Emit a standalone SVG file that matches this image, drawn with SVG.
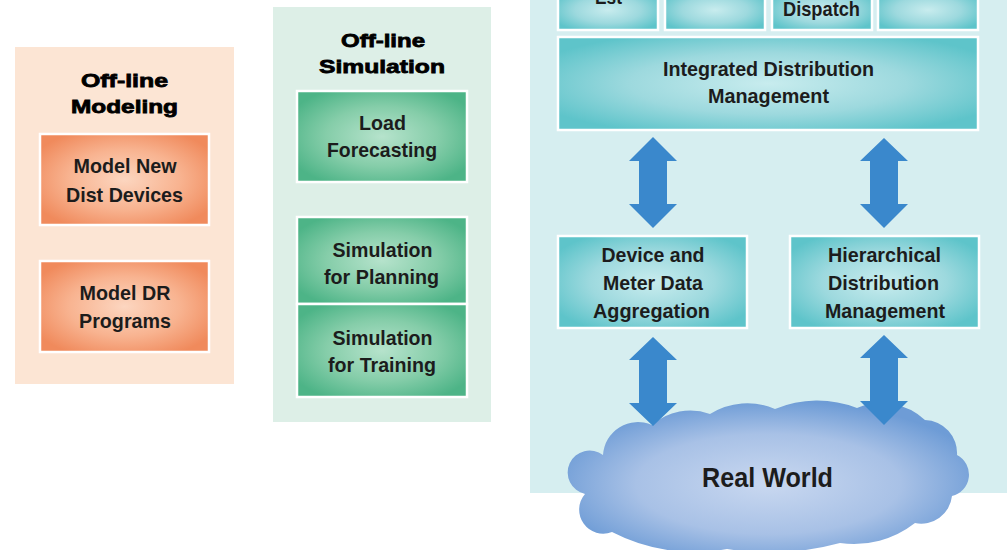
<svg xmlns="http://www.w3.org/2000/svg" width="1007" height="550" viewBox="0 0 1007 550">
<defs>
<radialGradient id="gTeal" cx="0.5" cy="0.5" r="0.6"><stop offset="0" stop-color="#c8ecee"/><stop offset="0.55" stop-color="#9dd9de"/><stop offset="1" stop-color="#5ec4ca"/></radialGradient>
<radialGradient id="gOrange" cx="0.5" cy="0.5" r="0.6"><stop offset="0" stop-color="#fcd6c0"/><stop offset="0.55" stop-color="#f8b390"/><stop offset="1" stop-color="#f08a5c"/></radialGradient>
<radialGradient id="gGreen" cx="0.5" cy="0.5" r="0.6"><stop offset="0" stop-color="#b6e3cc"/><stop offset="0.55" stop-color="#85cda9"/><stop offset="1" stop-color="#4db487"/></radialGradient>
<radialGradient id="gCloud" cx="0.5" cy="0.55" r="0.55"><stop offset="0" stop-color="#c9d8f0"/><stop offset="0.6" stop-color="#a8c1e6"/><stop offset="1" stop-color="#6e9cd6"/></radialGradient>
<style>
.lbl{font-family:"Liberation Sans",Arial,sans-serif;font-weight:bold;font-size:21px;fill:#1c1c1c;text-anchor:middle}
.ttl{font-family:"Liberation Sans",Arial,sans-serif;font-weight:bold;font-size:19px;fill:#000;stroke:#000;stroke-width:0.8;text-anchor:middle}
.box{stroke:#ffffff;stroke-width:2.5}
.teal{fill:url(#gTeal)}
.orange{fill:url(#gOrange)}
.green{fill:url(#gGreen)}
.arrow{fill:#3a88cc}
</style>
</defs>
<rect width="1007" height="550" fill="#ffffff"/>

<g id="panel-modeling">
<rect x="15" y="47" width="219" height="337" fill="#fce5d4"/>
<text class="ttl" x="124.5" y="87" textLength="87" lengthAdjust="spacingAndGlyphs">Off-line</text>
<text class="ttl" x="124.5" y="113" textLength="107" lengthAdjust="spacingAndGlyphs">Modeling</text>
</g>
<g id="node-model-new-dist-devices">
<rect class="box orange" x="40" y="134" width="169" height="91"/>
<text class="lbl" x="125" y="173" textLength="103" lengthAdjust="spacingAndGlyphs">Model New</text>
<text class="lbl" x="124.5" y="202" textLength="117" lengthAdjust="spacingAndGlyphs">Dist Devices</text>
</g>
<g id="node-model-dr-programs">
<rect class="box orange" x="40" y="261" width="169" height="91"/>
<text class="lbl" x="125" y="300" textLength="91" lengthAdjust="spacingAndGlyphs">Model DR</text>
<text class="lbl" x="125" y="328" textLength="92" lengthAdjust="spacingAndGlyphs">Programs</text>
</g>

<g id="panel-simulation">
<rect x="273" y="7" width="218" height="415" fill="#ddefe7"/>
<text class="ttl" x="383" y="47" textLength="84" lengthAdjust="spacingAndGlyphs">Off-line</text>
<text class="ttl" x="382" y="73" textLength="126" lengthAdjust="spacingAndGlyphs">Simulation</text>
</g>
<g id="node-load-forecasting">
<rect class="box green" x="297" y="91" width="170" height="91"/>
<text class="lbl" x="382.5" y="130" textLength="47" lengthAdjust="spacingAndGlyphs">Load</text>
<text class="lbl" x="382" y="157" textLength="110" lengthAdjust="spacingAndGlyphs">Forecasting</text>
</g>
<g id="node-simulation-planning">
<rect class="box green" x="297" y="217" width="170" height="87"/>
<text class="lbl" x="382.5" y="257" textLength="100" lengthAdjust="spacingAndGlyphs">Simulation</text>
<text class="lbl" x="381.5" y="284" textLength="115" lengthAdjust="spacingAndGlyphs">for Planning</text>
</g>
<g id="node-simulation-training">
<rect class="box green" x="297" y="304" width="170" height="93"/>
<text class="lbl" x="382.5" y="345" textLength="100" lengthAdjust="spacingAndGlyphs">Simulation</text>
<text class="lbl" x="382" y="372" textLength="108" lengthAdjust="spacingAndGlyphs">for Training</text>
</g>

<g id="panel-realtime">
<rect x="530" y="-2" width="479" height="495" fill="#d6eef0"/>
</g>
<g id="node-top-1">
<rect class="box teal" x="558" y="-10" width="100" height="40"/>
<text class="lbl" x="608.5" y="3.5" textLength="27" lengthAdjust="spacingAndGlyphs">Est</text>
</g>
<g id="node-top-2">
<rect class="box teal" x="665" y="-10" width="100" height="40"/>
</g>
<g id="node-top-3">
<rect class="box teal" x="772" y="-10" width="100" height="40"/>
<text class="lbl" x="821.5" y="15.5" textLength="77" lengthAdjust="spacingAndGlyphs">Dispatch</text>
</g>
<g id="node-top-4">
<rect class="box teal" x="878" y="-10" width="100" height="40"/>
</g>
<g id="node-integrated">
<rect class="box teal" x="558" y="37" width="420" height="93"/>
<text class="lbl" x="768.5" y="76" textLength="211" lengthAdjust="spacingAndGlyphs">Integrated Distribution</text>
<text class="lbl" x="768.5" y="103" textLength="121" lengthAdjust="spacingAndGlyphs">Management</text>
</g>
<g id="node-device-meter">
<rect class="box teal" x="558" y="236" width="189" height="92"/>
<text class="lbl" x="653" y="262" textLength="103" lengthAdjust="spacingAndGlyphs">Device and</text>
<text class="lbl" x="653" y="290" textLength="100" lengthAdjust="spacingAndGlyphs">Meter Data</text>
<text class="lbl" x="651.5" y="318" textLength="117" lengthAdjust="spacingAndGlyphs">Aggregation</text>
</g>
<g id="node-hierarchical">
<rect class="box teal" x="790" y="236" width="189" height="92"/>
<text class="lbl" x="884.5" y="262" textLength="113" lengthAdjust="spacingAndGlyphs">Hierarchical</text>
<text class="lbl" x="883.5" y="290" textLength="111" lengthAdjust="spacingAndGlyphs">Distribution</text>
<text class="lbl" x="885" y="318" textLength="120" lengthAdjust="spacingAndGlyphs">Management</text>
</g>
<g id="node-real-world">
<path fill="url(#gCloud)" d="M603,455 A35,35 0 0 1 652,425 A58,58 0 0 1 710,414 A70,70 0 0 1 775,409 A109,109 0 0 1 857,408 A64,64 0 0 1 925,420 A33,33 0 0 1 957,455 A22,22 0 0 1 952,496 A31,31 0 0 1 915,523 A99,99 0 0 1 840,543 A269,269 0 0 1 727,549 A179,179 0 0 1 612,532 A24,24 0 0 1 585,494 A22,22 0 1 1 603,455 Z"/>
<text class="lbl" x="767.5" y="487" style="font-size:28px" textLength="131" lengthAdjust="spacingAndGlyphs">Real World</text>
</g>

<g id="connectors">
<polygon class="arrow" points="653,137 677,161 667,161 667,204 677,204 653,228 629,204 639,204 639,161 629,161"/>
<polygon class="arrow" points="884,138 908,161 898,161 898,204 908,204 884,228 860,204 870,204 870,161 860,161"/>
<polygon class="arrow" points="653,337 677,360 667,360 667,403 677,403 653,426 629,403 639,403 639,360 629,360"/>
<polygon class="arrow" points="884,335 908,358 898,358 898,401 908,401 884,425 860,401 870,401 870,358 860,358"/>
</g>
</svg>
